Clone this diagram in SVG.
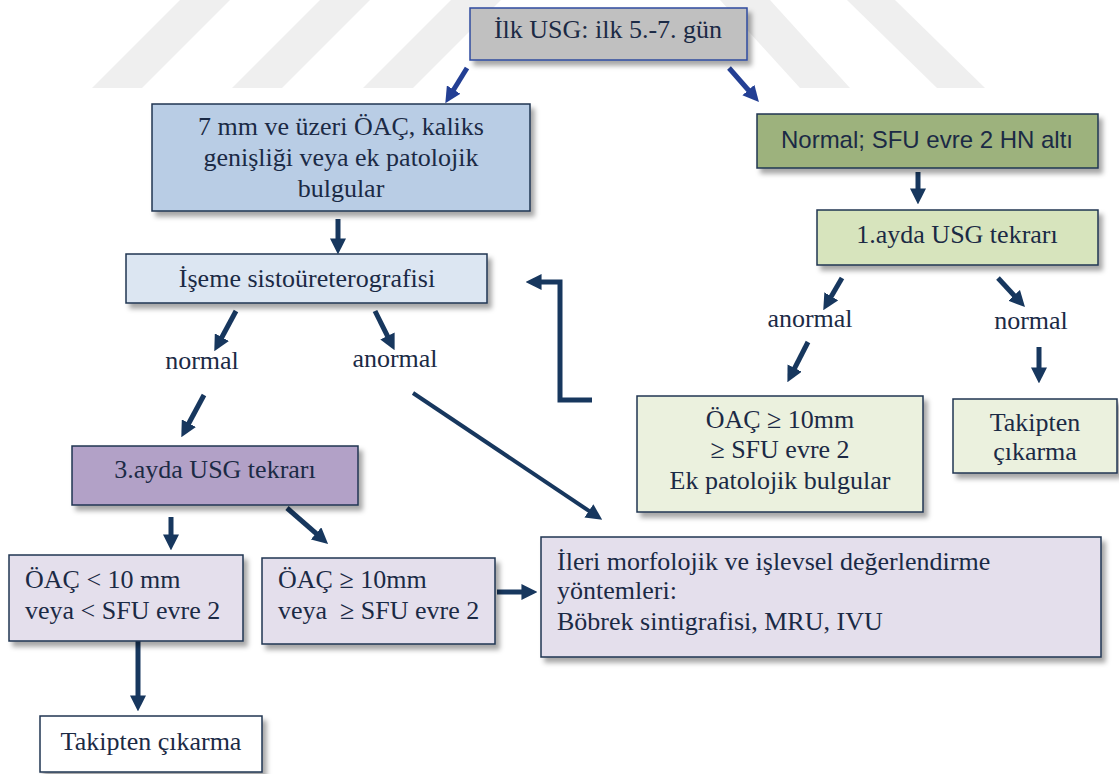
<svg xmlns="http://www.w3.org/2000/svg" width="1119" height="774" viewBox="0 0 1119 774">
  <style>
    .box { stroke: #1f3552; stroke-width: 1.5; filter: url(#shadow); }
    .t { font-family: "Liberation Serif", "Times New Roman", serif; font-size: 26px; fill: #1b2a45; }
    .c { text-anchor: middle; }
    .sans { font-family: "Liberation Sans", Arial, sans-serif; font-size: 24px; }
    .arr { fill: none; stroke: #17375e; stroke-width: 5; marker-end: url(#head); }
    .arrb { fill: none; stroke: #233f94; stroke-width: 5; marker-end: url(#headb); }
    .wm { fill: #efefef; }
  </style>
  <defs>
    <filter id="shadow" x="-10%" y="-20%" width="125%" height="150%">
      <feDropShadow dx="4" dy="5" stdDeviation="2.5" flood-color="#000" flood-opacity="0.35"/>
    </filter>
    <marker id="head" markerUnits="userSpaceOnUse" markerWidth="16" markerHeight="16" viewBox="0 0 14 14" refX="4" refY="7" orient="auto">
      <path d="M0,0 L14,7 L0,14 z" fill="#17375e"/>
    </marker>
    <marker id="headb" markerUnits="userSpaceOnUse" markerWidth="16" markerHeight="16" viewBox="0 0 14 14" refX="4" refY="7" orient="auto">
      <path d="M0,0 L14,7 L0,14 z" fill="#233f94"/>
    </marker>
  </defs>

  <rect width="1119" height="774" fill="#ffffff"/>

  <!-- faint background stripes -->
  <g id="watermark">
    <polygon class="wm" points="180,0 230,0 142,88 92,88"/>
    <polygon class="wm" points="320,0 370,0 282,88 232,88"/>
    <polygon class="wm" points="451,0 501,0 413,88 363,88"/>
    <polygon class="wm" points="720,0 770,0 850,88 800,88"/>
    <polygon class="wm" points="847,0 895,0 985,88 937,88"/>
  </g>

  <!-- connectors -->
  <g id="connectors">
    <line class="arrb" x1="467" y1="68" x2="451.3" y2="93.5"/>
    <line class="arrb" x1="729" y1="68" x2="751.4" y2="93.5"/>
    <line class="arr" x1="338" y1="219" x2="338" y2="243"/>
    <line class="arr" x1="918" y1="172" x2="918" y2="193"/>
    <line class="arr" x1="842" y1="278" x2="829" y2="300.3"/>
    <line class="arr" x1="998" y1="278" x2="1017.2" y2="298.7"/>
    <line class="arr" x1="808" y1="342" x2="792.6" y2="372.1"/>
    <line class="arr" x1="1039" y1="347" x2="1039" y2="372"/>
    <line class="arr" x1="236" y1="311" x2="219.7" y2="341.2"/>
    <line class="arr" x1="375" y1="311" x2="389.5" y2="340.1"/>
    <line class="arr" x1="204" y1="395" x2="186.7" y2="427.2"/>
    <line class="arr" style="stroke-width:4" x1="413" y1="393" x2="592.7" y2="513.4"/>
    <line class="arr" x1="171" y1="517" x2="171" y2="539"/>
    <line class="arr" x1="287" y1="508" x2="319.5" y2="536.4"/>
    <line class="arr" x1="497" y1="592" x2="526" y2="592"/>
    <line class="arr" x1="138" y1="641" x2="138" y2="700"/>
    <path class="arr" d="M592,400 H560 V282 H537"/>
  </g>

  <g id="n-start">
    <rect class="box" x="470" y="8" width="277" height="52" fill="#c0c0c0" style="stroke:#2e4a9e"/>
    <text class="t c" x="608" y="38">İlk USG: ilk 5.-7. gün</text>
  </g>

  <g id="n-ample">
    <rect class="box" x="152" y="104" width="378" height="107" fill="#b9cde5"/>
    <text class="t c" x="341" y="135">7 mm ve üzeri ÖAÇ, kaliks</text>
    <text class="t c" x="341" y="166">genişliği veya ek patolojik</text>
    <text class="t c" x="341" y="197">bulgular</text>
  </g>

  <g id="n-normal">
    <rect class="box" x="757" y="114" width="341" height="54" fill="#9db27d"/>
    <text class="t c sans" x="927" y="148">Normal; SFU evre 2 HN altı</text>
  </g>

  <g id="n-month1">
    <rect class="box" x="817" y="210" width="281" height="55" fill="#d7e4bd"/>
    <text class="t c" x="957" y="243">1.ayda USG tekrarı</text>
  </g>

  <g id="n-iseme">
    <rect class="box" x="126" y="254" width="361" height="49" fill="#dce6f2"/>
    <text class="t c" x="307" y="287">İşeme sistoüreterografisi</text>
  </g>

  <g id="l-labels">
    <text class="t c" x="202" y="369">normal</text>
    <text class="t c" x="395" y="367">anormal</text>
    <text class="t c" x="810" y="327">anormal</text>
    <text class="t c" x="1031" y="329">normal</text>
  </g>

  <g id="n-abn1">
    <rect class="box" x="637" y="396" width="286" height="116" fill="#ebf1de"/>
    <text class="t c" x="780" y="428">ÖAÇ ≥ 10mm</text>
    <text class="t c" x="780" y="458">≥ SFU evre 2</text>
    <text class="t c" x="780" y="489">Ek patolojik bulgular</text>
  </g>

  <g id="n-exit1">
    <rect class="box" x="953" y="399" width="164" height="74" fill="#ebf1de"/>
    <text class="t c" x="1035" y="431">Takipten</text>
    <text class="t c" x="1035" y="460">çıkarma</text>
  </g>

  <g id="n-month3">
    <rect class="box" x="72" y="446" width="286" height="59" fill="#b2a1c7"/>
    <text class="t c" x="215" y="478">3.ayda USG tekrarı</text>
  </g>

  <g id="n-small">
    <rect class="box" x="9" y="555" width="234" height="86" fill="#e4dfec"/>
    <text class="t" x="25" y="588">ÖAÇ &lt; 10 mm</text>
    <text class="t" x="25" y="619">veya &lt; SFU evre 2</text>
  </g>

  <g id="n-large">
    <rect class="box" x="262" y="558" width="233" height="86" fill="#e4dfec"/>
    <text class="t" x="278" y="588">ÖAÇ ≥ 10mm</text>
    <text class="t" x="278" y="619" xml:space="preserve">veya  ≥ SFU evre 2</text>
  </g>

  <g id="n-advanced">
    <rect class="box" x="541" y="537" width="560" height="120" fill="#e4dfec"/>
    <text class="t" x="557" y="570">İleri morfolojik ve işlevsel değerlendirme</text>
    <text class="t" x="557" y="599">yöntemleri:</text>
    <text class="t" x="557" y="630">Böbrek sintigrafisi, MRU, IVU</text>
  </g>

  <g id="n-exit2">
    <rect class="box" x="40" y="716" width="222" height="56" fill="#ffffff"/>
    <text class="t c" x="151" y="750">Takipten çıkarma</text>
  </g>
</svg>
